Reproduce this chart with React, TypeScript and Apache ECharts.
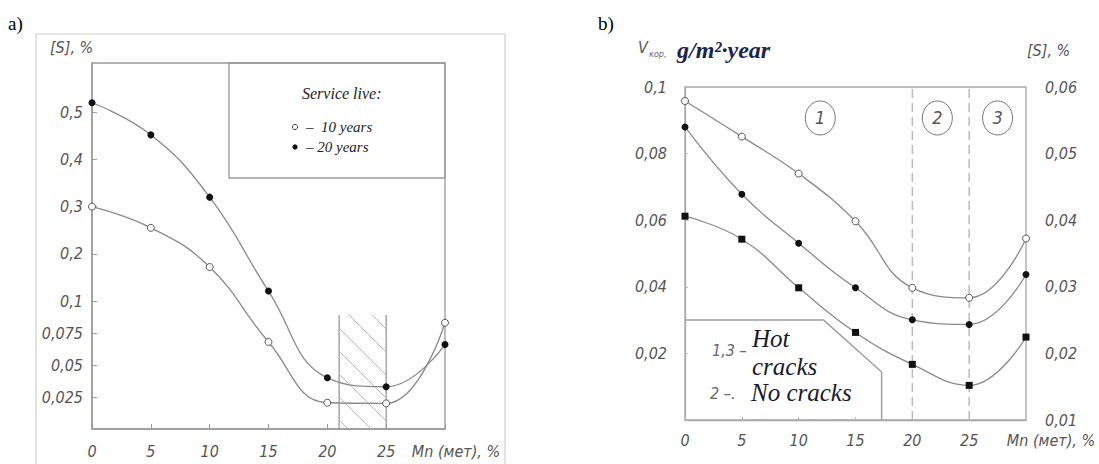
import React, { useEffect, useRef } from "react";
import * as echarts from "echarts";

// ---------- data ----------
const mnPercent = [0, 5, 10, 15, 20, 25, 30];

// panel a) sulfur content [S], %
const sulfur10Years = [0.3, 0.255, 0.172, 0.068, 0.0205, 0.02, 0.083];
const sulfur20Years = [0.52, 0.452, 0.32, 0.121, 0.04, 0.033, 0.066];
const sulfurTickValues = [0.025, 0.05, 0.075, 0.1, 0.2, 0.3, 0.4, 0.5];
const hatchFromMn = 21;
const hatchToMn = 25;
const hatchTopS = 0.089;

// panel b) corrosion rate
const corrosionCurve1 = [0.0958, 0.0851, 0.074, 0.0597, 0.0397, 0.0367, 0.0545];
const corrosionCurve2 = [0.088, 0.0678, 0.0531, 0.0397, 0.0301, 0.0287, 0.0437];
const corrosionCurve3 = [0.0612, 0.0543, 0.0397, 0.0263, 0.0167, 0.0104, 0.0249];
const zoneBoundariesMn = [20, 25];
const zoneLabelMn = [11.9, 22.2, 27.5];
const zoneLabelText = ["1", "2", "3"];
const zoneLabelLevel = 0.0907;
const legendOutlineMn = [0, 12.2, 17.3, 17.3];
const legendOutlineV = [0.03, 0.03, 0.0144, 0];

// ---------- helpers ----------
const HAND = "'Liberation Sans Narrow', 'DejaVu Sans Condensed', 'Roboto', sans-serif";
const SERIF = "Liberation Serif, serif";
const LOWER_UNIT = 0.025; // one scale unit below 0.1
const UPPER_STEP = 1.475; // scale units per 0.1 above 0.1

const toScale = (v: number) => (v <= 0.1 ? v / LOWER_UNIT : 4 + ((v - 0.1) / 0.1) * UPPER_STEP);
const fromScale = (t: number) => (t <= 4.0001 ? t * LOWER_UNIT : 0.1 + ((t - 4) / UPPER_STEP) * 0.1);
const fmt = (v: number) => String(parseFloat(v.toFixed(4))).replace(".", ",");

const tickFont = {
  fontFamily: HAND,
  fontStyle: "italic" as const,
  fontSize: 16,
  color: "#555",
};

const handText = (x: number, y: number, text: string, size = 16, fill = "#555") => ({
  type: "text",
  x,
  y,
  silent: true,
  style: { text, fill, fontFamily: HAND, fontStyle: "italic", fontSize: size, verticalAlign: "middle" },
});

const serifText = (x: number, y: number, text: string, size: number, fill: string, italic = true, bold = false) => ({
  type: "text",
  x,
  y,
  silent: true,
  style: {
    text,
    fill,
    fontFamily: SERIF,
    fontStyle: italic ? "italic" : "normal",
    fontWeight: bold ? "bold" : "normal",
    fontSize: size,
    verticalAlign: "middle",
  },
});

export default function App() {
  const ref = useRef<HTMLDivElement>(null);

  useEffect(() => {
    if (!ref.current) return;
    const chart = echarts.init(ref.current, undefined, { renderer: "svg" });

    const lineGrey = "#8a8a8a";
    const axisGrey = "#9a9a9a";

    const openSym = {
      symbol: "circle",
      symbolSize: 7,
      itemStyle: { color: "#fff", borderColor: "#555", borderWidth: 1 },
    };
    const fillSym = {
      symbol: "circle",
      symbolSize: 7,
      itemStyle: { color: "#111", borderColor: "#111", borderWidth: 0 },
    };

    const sulfurTicks = sulfurTickValues.map(toScale);

    const boundarySeries = zoneBoundariesMn.map((x) => ({
      type: "line",
      xAxisIndex: 1,
      yAxisIndex: 1,
      silent: true,
      symbol: "none",
      data: [
        [x, 0],
        [x, 0.1],
      ],
      lineStyle: { color: "#bbb", type: [9, 5], width: 1.5 },
      z: 1,
    }));

    const option: any = {
      animation: false,
      backgroundColor: "#fff",
      grid: [
        {
          left: 92,
          top: 63,
          right: 1099 - 445,
          bottom: 464 - 429,
          show: true,
          borderColor: axisGrey,
          borderWidth: 1.3,
          backgroundColor: "transparent",
        },
        {
          left: 685,
          top: 87,
          right: 1099 - 1026,
          bottom: 464 - 420,
          show: true,
          borderColor: "#a8a8a8",
          borderWidth: 1.3,
          backgroundColor: "transparent",
        },
      ],
      xAxis: [
        {
          gridIndex: 0,
          type: "value",
          min: 0,
          max: 30,
          interval: 5,
          axisLine: { show: true, lineStyle: { color: axisGrey, width: 1.5 } },
          axisTick: { show: true, inside: true, length: 5, lineStyle: { color: axisGrey } },
          splitLine: { show: false },
          axisLabel: {
            ...tickFont,
            margin: 14,
            formatter: (v: number) => (v === 30 ? "{m|Mn (мет), %}" : String(v)),
            rich: { m: { ...tickFont, padding: [0, 0, 0, 22] } },
          },
        },
        {
          gridIndex: 1,
          type: "value",
          min: 0,
          max: 30,
          interval: 5,
          axisLine: { show: true, lineStyle: { color: "#a8a8a8", width: 1.3 } },
          axisTick: { show: true, inside: true, length: 3, lineStyle: { color: "#bbb" } },
          splitLine: { show: false },
          axisLabel: {
            ...tickFont,
            margin: 12,
            formatter: (v: number) => (v === 30 ? "{m|Mn (мет), %}" : String(v)),
            rich: { m: { ...tickFont, padding: [0, 0, 0, 50] } },
          },
        },
      ],
      yAxis: [
        {
          gridIndex: 0,
          type: "value",
          min: 0,
          max: (429 - 63) / 32,
          axisLine: { show: true, lineStyle: { color: axisGrey, width: 1.5 } },
          axisTick: {
            show: true,
            inside: true,
            length: 5,
            customValues: sulfurTicks,
            lineStyle: { color: axisGrey },
          },
          splitLine: { show: false },
          axisLabel: {
            ...tickFont,
            margin: 9,
            customValues: sulfurTicks,
            formatter: (v: number) => fmt(fromScale(v)),
          },
        },
        {
          gridIndex: 1,
          type: "value",
          min: 0,
          max: 0.1,
          interval: 0.02,
          axisLine: { show: true, lineStyle: { color: "#a8a8a8", width: 1.3 } },
          axisTick: { show: true, inside: true, length: 3, lineStyle: { color: "#bbb" } },
          splitLine: { show: false },
          axisLabel: {
            ...tickFont,
            margin: 18,
            formatter: (v: number) => (v === 0 ? "" : fmt(v)),
          },
        },
        {
          gridIndex: 1,
          type: "value",
          position: "right",
          min: 0.01,
          max: 0.06,
          interval: 0.01,
          axisLine: { show: false },
          axisTick: { show: false },
          splitLine: { show: false },
          axisLabel: {
            ...tickFont,
            margin: 19,
            formatter: (v: number) => fmt(v),
          },
        },
      ],
      series: [
        // ----- panel a -----
        {
          type: "custom",
          xAxisIndex: 0,
          yAxisIndex: 0,
          clip: false,
          silent: true,
          z: 1,
          data: [[hatchFromMn, hatchToMn, toScale(hatchTopS)]],
          renderItem: (params: any, api: any) => {
            const tl = api.coord([api.value(0), api.value(2)]);
            const br = api.coord([api.value(1), 0]);
            const L = tl[0], T = tl[1], R = br[0], B = br[1];
            const children: any[] = [
              { type: "line", shape: { x1: L, y1: T, x2: L, y2: B }, style: { stroke: "#999", lineWidth: 1.3 } },
              { type: "line", shape: { x1: R, y1: T, x2: R, y2: B }, style: { stroke: "#999", lineWidth: 1.3 } },
            ];
            const step = 23;
            for (let c = T - R + 14; c < B - L; c += step) {
              const xs = Math.max(L, T - c);
              const xe = Math.min(R, B - c);
              if (xe - xs > 1) {
                children.push({
                  type: "line",
                  shape: { x1: xs, y1: xs + c, x2: xe, y2: xe + c },
                  style: { stroke: "#b5b5b5", lineWidth: 1 },
                });
              }
            }
            return { type: "group", children };
          },
        },
        {
          type: "line",
          xAxisIndex: 0,
          yAxisIndex: 0,
          smooth: 0.45,
          data: mnPercent.map((x, i) => [x, toScale(sulfur10Years[i])]),
          lineStyle: { color: lineGrey, width: 1.3 },
          ...openSym,
          z: 3,
        },
        {
          type: "line",
          xAxisIndex: 0,
          yAxisIndex: 0,
          smooth: 0.45,
          data: mnPercent.map((x, i) => [x, toScale(sulfur20Years[i])]),
          lineStyle: { color: lineGrey, width: 1.3 },
          ...fillSym,
          z: 3,
        },
        // ----- panel b -----
        ...boundarySeries,
        {
          type: "line",
          xAxisIndex: 1,
          yAxisIndex: 1,
          silent: true,
          symbol: "none",
          data: legendOutlineMn.map((x, i) => [x, legendOutlineV[i]]),
          lineStyle: { color: "#a0a0a0", width: 1.5 },
          z: 1,
        },
        {
          type: "line",
          xAxisIndex: 1,
          yAxisIndex: 1,
          smooth: 0.45,
          data: mnPercent.map((x, i) => [x, corrosionCurve1[i]]),
          lineStyle: { color: lineGrey, width: 1.3 },
          ...openSym,
          z: 3,
        },
        {
          type: "line",
          xAxisIndex: 1,
          yAxisIndex: 1,
          smooth: 0.45,
          data: mnPercent.map((x, i) => [x, corrosionCurve2[i]]),
          lineStyle: { color: lineGrey, width: 1.3 },
          ...fillSym,
          z: 3,
        },
        {
          type: "line",
          xAxisIndex: 1,
          yAxisIndex: 1,
          smooth: 0.45,
          data: mnPercent.map((x, i) => [x, corrosionCurve3[i]]),
          lineStyle: { color: lineGrey, width: 1.3 },
          symbol: "rect",
          symbolSize: 7,
          itemStyle: { color: "#111" },
          z: 3,
        },
        {
          type: "custom",
          xAxisIndex: 1,
          yAxisIndex: 1,
          clip: false,
          silent: true,
          z: 4,
          data: zoneLabelMn.map((x) => [x, zoneLabelLevel]),
          renderItem: (params: any, api: any) => {
            const p = api.coord([api.value(0), api.value(1)]);
            return {
              type: "group",
              children: [
                {
                  type: "ellipse",
                  shape: { cx: p[0], cy: p[1], rx: 15, ry: 17 },
                  style: { fill: "#fff", stroke: "#777", lineWidth: 1 },
                },
                {
                  type: "text",
                  x: p[0],
                  y: p[1],
                  style: {
                    text: zoneLabelText[params.dataIndex],
                    fill: "#555",
                    fontFamily: HAND,
                    fontStyle: "italic",
                    fontSize: 18,
                    align: "center",
                    verticalAlign: "middle",
                  },
                },
              ],
            };
          },
        },
      ],
      graphic: [
        // outer frame of panel a
        {
          type: "polyline",
          shape: { points: [[36, 464], [36, 34], [505, 34], [505, 464]] },
          style: { stroke: "#cfcfcf", fill: "none", lineWidth: 1.2 },
          silent: true,
        },
        // legend box panel a
        {
          type: "rect",
          shape: { x: 229, y: 63, width: 216, height: 115 },
          style: { stroke: "#9a9a9a", fill: "none", lineWidth: 1.3 },
          silent: true,
        },
        serifText(302, 93, "Service live:", 16, "#222"),
        {
          type: "circle",
          shape: { cx: 295, cy: 127, r: 2.6 },
          style: { fill: "#fff", stroke: "#444", lineWidth: 1 },
        },
        serifText(306, 127, "–  10 years", 15, "#222"),
        {
          type: "circle",
          shape: { cx: 295, cy: 147, r: 2.6 },
          style: { fill: "#111" },
        },
        serifText(306, 147, "– 20 years", 15, "#222"),
        // panel labels
        serifText(8, 23, "a)", 19, "#000", false),
        serifText(598, 23, "b)", 19, "#000", false),
        // axis titles
        handText(50, 47, "[S], %", 16),
        handText(1027, 50, "[S], %", 16),
        handText(638, 47, "V", 16),
        handText(649, 54, "кор,", 9, "#666"),
        serifText(677, 50, "g/m²·year", 24, "#1b2550", true, true),
        // legend panel b
        handText(712, 350, "1,3 –", 16, "#666"),
        serifText(752, 338, "Hot", 25, "#1a1a2e"),
        serifText(752, 366, "cracks", 25, "#1a1a2e"),
        handText(710, 393, "2 –.", 16, "#666"),
        serifText(751, 392, "No cracks", 25, "#1a1a2e"),
      ],
    };

    chart.setOption(option);
    return () => chart.dispose();
  }, []);

  return (
    <div
      ref={ref}
      style={{ position: "absolute", left: 0, top: 0, width: 1099, height: 464, background: "#fff" }}
    />
  );
}
